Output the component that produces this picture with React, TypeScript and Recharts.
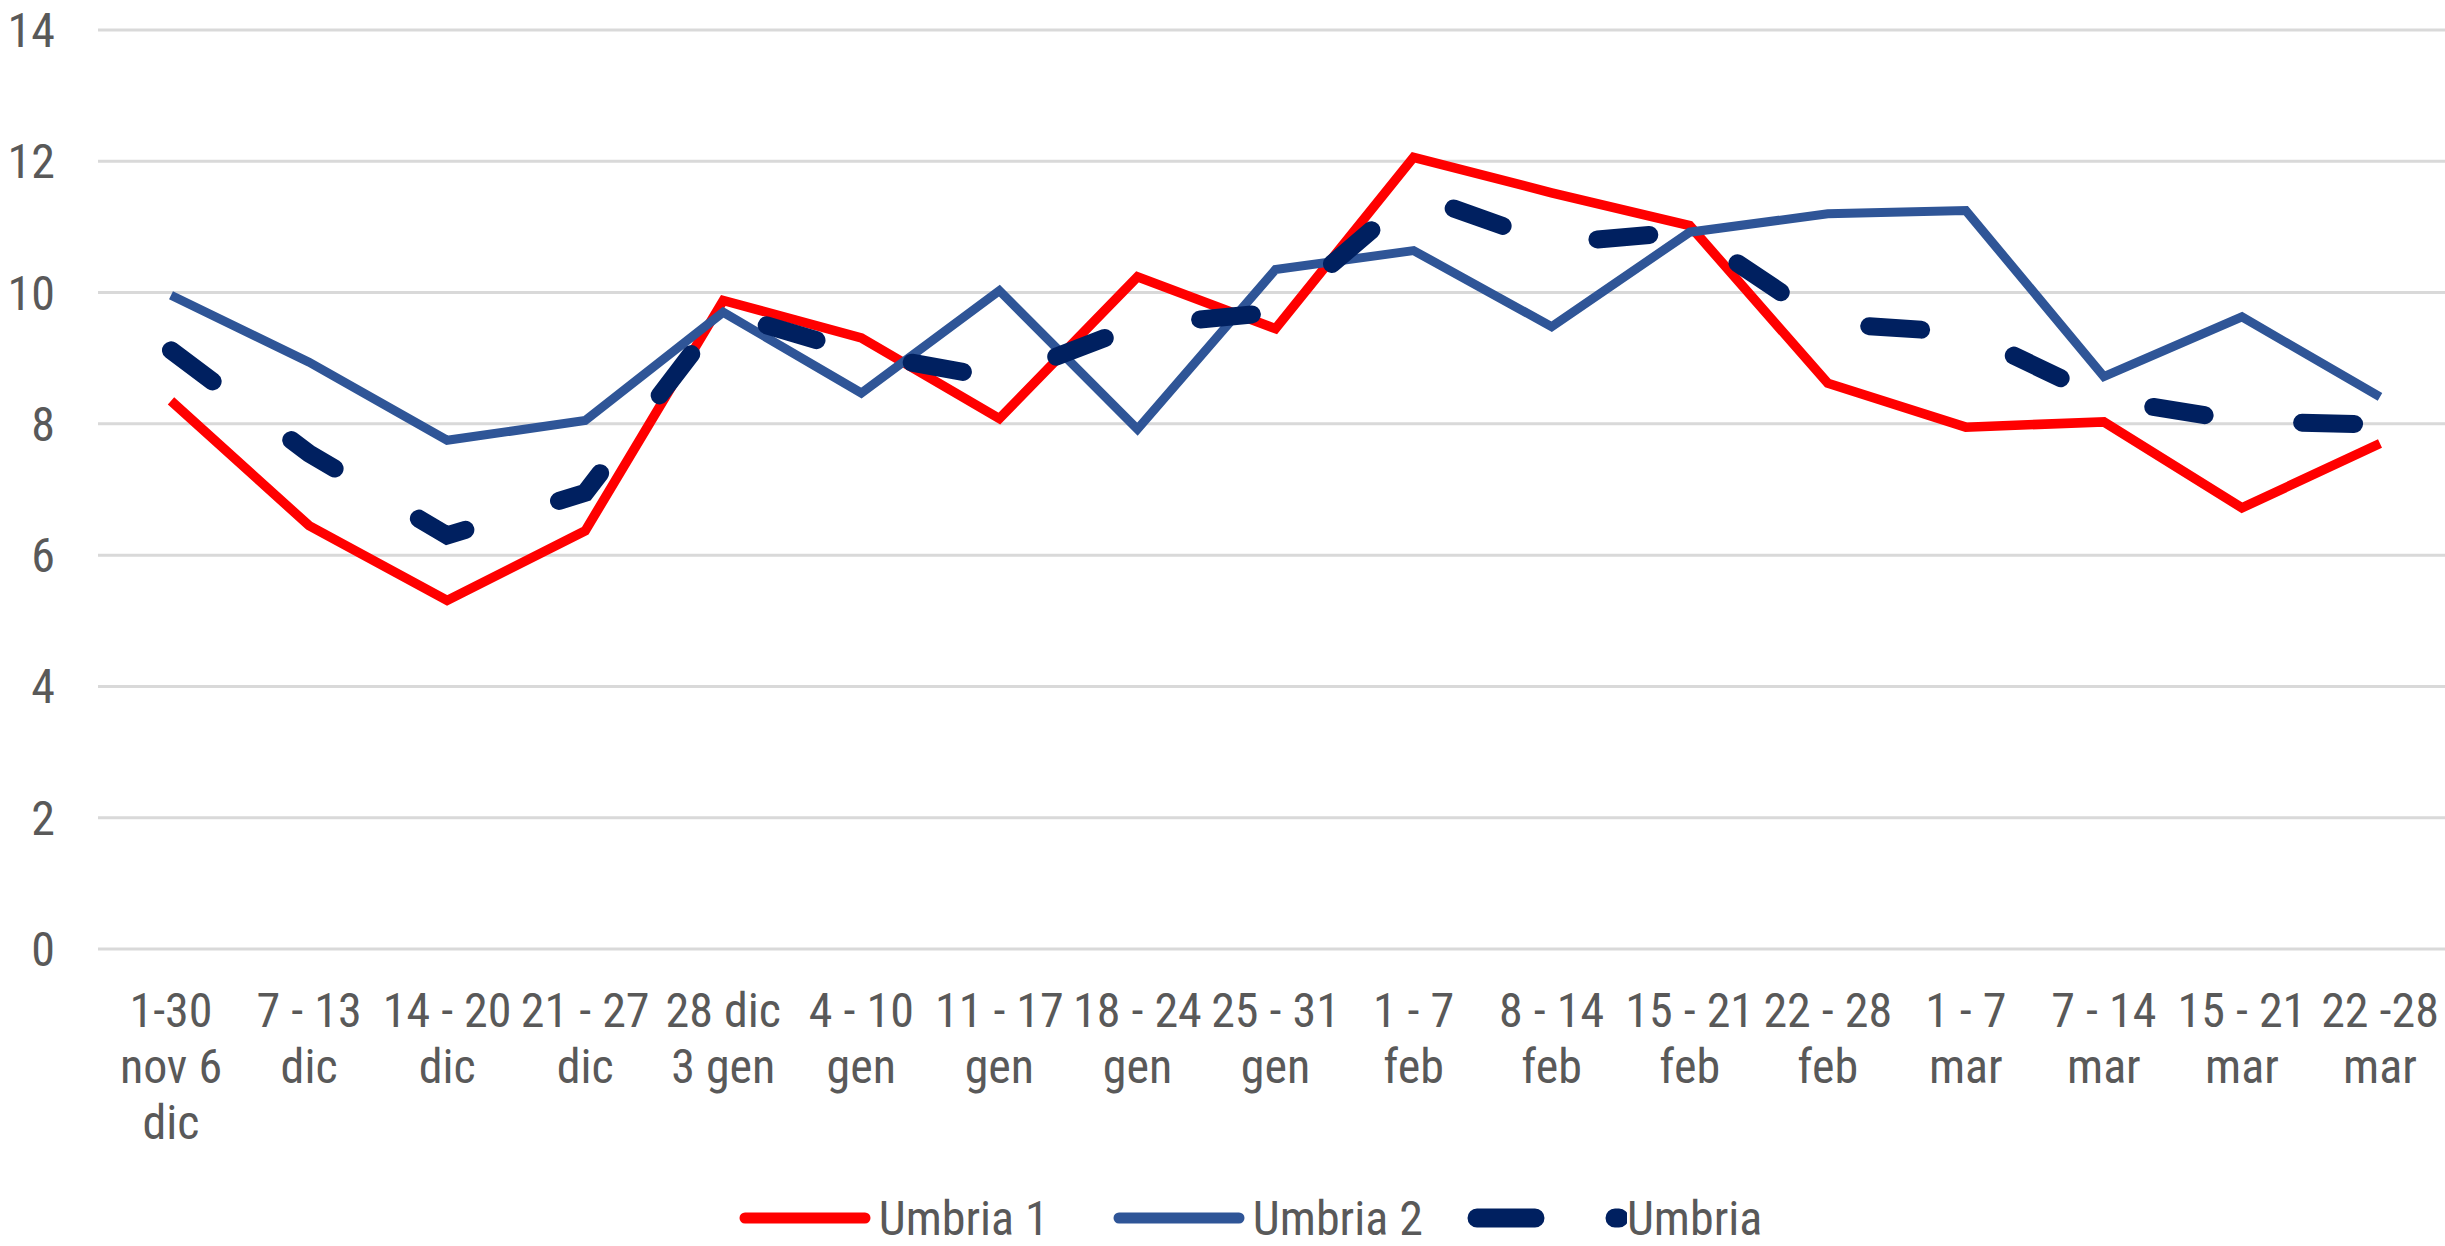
import { CartesianGrid, Legend, Line, LineChart, XAxis, YAxis } from "recharts";

const WEEK_LABELS: string[][] = [
    ["1-30", "nov 6", "dic"],
    ["7 - 13", "dic"],
    ["14 - 20", "dic"],
    ["21 - 27", "dic"],
    ["28 dic", "3 gen"],
    ["4 - 10", "gen"],
    ["11 - 17", "gen"],
    ["18 - 24", "gen"],
    ["25 - 31", "gen"],
    ["1 - 7", "feb"],
    ["8 - 14", "feb"],
    ["15 - 21", "feb"],
    ["22 - 28", "feb"],
    ["1 - 7", "mar"],
    ["7 - 14", "mar"],
    ["15 - 21", "mar"],
    ["22 -28", "mar"],
];

const WEEKS = WEEK_LABELS.map((lines) => lines.join(" "));

const UMBRIA_1 = [8.35, 6.45, 5.31, 6.37, 9.88, 9.31, 8.08, 10.24, 9.45, 12.06, 11.52, 11.02, 8.62, 7.95, 8.03, 6.72, 7.7];
const UMBRIA_2 = [9.96, 8.94, 7.75, 8.05, 9.7, 8.47, 10.03, 7.92, 10.35, 10.64, 9.48, 10.92, 11.2, 11.25, 8.72, 9.63, 8.41];
const UMBRIA = [9.12, 7.55, 6.3, 6.95, 9.7, 9.07, 8.69, 9.5, 9.7, 11.5, 10.75, 10.93, 9.53, 9.39, 8.38, 8.04, 7.99];

const Y_TICKS = [0, 2, 4, 6, 8, 10, 12, 14];

const FONT = "'Liberation Sans Narrow', 'Arial Narrow', 'Roboto Condensed', 'DejaVu Sans Condensed', sans-serif";
const TEXT_COLOR = "#595959";
const RED = "#FF0000";
const BLUE = "#2F5597";
const NAVY = "#002060";

const data = WEEKS.map((week, i) => ({
    week,
    u1: UMBRIA_1[i],
    u2: UMBRIA_2[i],
    u: UMBRIA[i],
}));

function XTick(props: any) {
    const { x, y, index } = props;
    const lines = WEEK_LABELS[index] ?? [];
    return (
        <text x={x} y={y} textAnchor="middle" fill={TEXT_COLOR} fontFamily={FONT} fontSize={48}>
            {lines.map((line, i) => (
                <tspan key={i} x={x} dy={i === 0 ? 70 : 56}>
                    {line}
                </tspan>
            ))}
        </text>
    );
}

function YTick(props: any) {
    const { y, payload } = props;
    return (
        <text x={55} y={y} dy={17} textAnchor="end" fill={TEXT_COLOR} fontFamily={FONT} fontSize={48}>
            {payload.value}
        </text>
    );
}

function LegendContent() {
    const item = { display: "flex", alignItems: "center" } as const;
    return (
        <div
            style={{
                display: "flex",
                justifyContent: "center",
                alignItems: "center",
                height: 56,
                paddingLeft: 56,
                fontFamily: FONT,
                fontSize: 48,
                color: TEXT_COLOR,
            }}
        >
            <div style={{ ...item, marginRight: 64 }}>
                <svg width={132} height={20}>
                    <line x1={6} y1={10} x2={126} y2={10} stroke={RED} strokeWidth={11} strokeLinecap="round" />
                </svg>
                <span style={{ marginLeft: 8 }}>Umbria 1</span>
            </div>
            <div style={{ ...item, marginRight: 44 }}>
                <svg width={132} height={20}>
                    <line x1={6} y1={10} x2={126} y2={10} stroke={BLUE} strokeWidth={11} strokeLinecap="round" />
                </svg>
                <span style={{ marginLeft: 8 }}>Umbria 2</span>
            </div>
            <div style={item}>
                <svg width={160} height={24}>
                    <line
                        x1={10}
                        y1={12}
                        x2={152}
                        y2={12}
                        stroke={NAVY}
                        strokeWidth={19}
                        strokeLinecap="round"
                        strokeDasharray="58 80"
                    />
                </svg>
                <span style={{ marginLeft: 0 }}>Umbria</span>
            </div>
        </div>
    );
}

export default function App() {
    return (
        <div style={{ position: "absolute", left: 0, top: 0, width: 2445, height: 1246, background: "#fff" }}>
            <LineChart width={2445} height={1246} data={data} margin={{ top: 30, right: 0, bottom: 0, left: 0 }}>
                <CartesianGrid horizontal vertical={false} stroke="#d9d9d9" strokeWidth={3} />
                <XAxis
                    dataKey="week"
                    axisLine={false}
                    tickLine={false}
                    interval={0}
                    height={241}
                    padding={{ left: 73, right: 65 }}
                    tick={<XTick />}
                />
                <YAxis
                    domain={[0, 14]}
                    ticks={Y_TICKS}
                    width={98}
                    axisLine={false}
                    tickLine={false}
                    tick={<YTick />}
                />
                <Legend verticalAlign="bottom" height={56} content={<LegendContent />} />
                <Line
                    dataKey="u1"
                    name="Umbria 1"
                    stroke={RED}
                    strokeWidth={9.5}
                    dot={false}
                    activeDot={false}
                    type="linear"
                    isAnimationActive={false}
                />
                <Line
                    dataKey="u2"
                    name="Umbria 2"
                    stroke={BLUE}
                    strokeWidth={9}
                    dot={false}
                    activeDot={false}
                    type="linear"
                    isAnimationActive={false}
                />
                <Line
                    dataKey="u"
                    name="Umbria"
                    stroke={NAVY}
                    strokeWidth={18}
                    strokeLinecap="round"
                    strokeDasharray="52 98"
                    dot={false}
                    activeDot={false}
                    type="linear"
                    isAnimationActive={false}
                />
            </LineChart>
        </div>
    );
}
